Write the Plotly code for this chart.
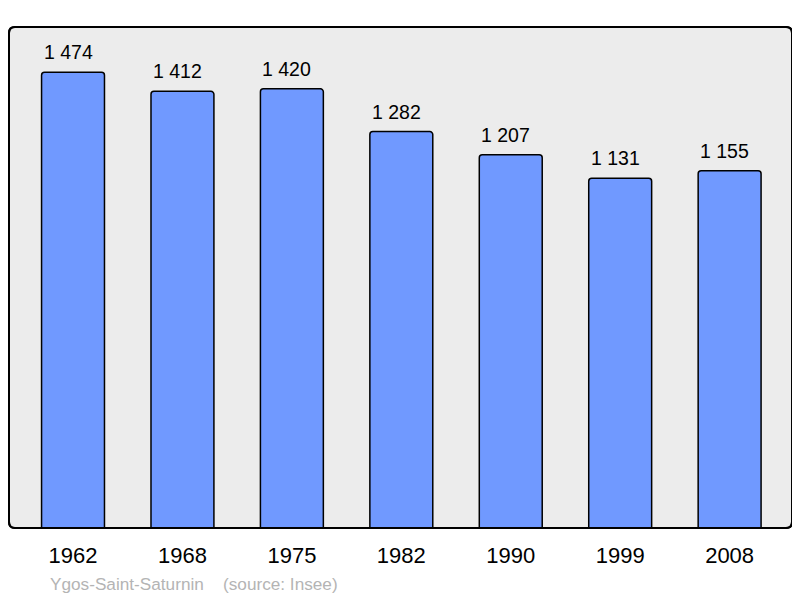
import plotly.graph_objects as go

years = ["1962", "1968", "1975", "1982", "1990", "1999", "2008"]
population = [1474, 1412, 1420, 1282, 1207, 1131, 1155]
value_labels = ["1 474", "1 412", "1 420", "1 282", "1 207", "1 131", "1 155"]
commune_text = "Ygos-Saint-Saturnin"
source_text = "(source: Insee)"

# page body has an 8px default margin; compensate in the figure margins
W, H = 800, 598
ml, mr, mt, mb = 1, 16, 19, 78
pw, ph = W - ml - mr, H - mt - mb

fig = go.Figure()
fig.add_trace(go.Bar(
    x=years, y=population,
    marker=dict(color="#7099ff", line=dict(color="black", width=1.5), cornerradius=3),
    width=0.575,
    hoverinfo="skip",
))

for i, (v, lab) in enumerate(zip(population, value_labels)):
    fig.add_annotation(x=i, y=v, xref="x", yref="y", text=lab, showarrow=False,
                       yanchor="bottom", yshift=7, xshift=-5,
                       font=dict(size=19.5, color="black", family="Liberation Sans"))

rx, ry = 6 / pw, 6 / ph
path = (f"M {rx},0 L {1-rx},0 Q 1,0 1,{ry} L 1,{1-ry} Q 1,1 {1-rx},1 "
        f"L {rx},1 Q 0,1 0,{1-ry} L 0,{ry} Q 0,0 {rx},0 Z")
fig.add_shape(type="path", path=path, xref="paper", yref="paper",
              fillcolor="#ececec", line=dict(color="black", width=2), layer="below")
fig.add_shape(type="path", path=path, xref="paper", yref="paper",
              fillcolor="rgba(0,0,0,0)", line=dict(color="black", width=2), layer="above")

src_y = -((584 - 8) - (mt + ph)) / ph
for txt, px in [(commune_text, 48), (source_text, 221)]:
    fig.add_annotation(x=(px - 8 - ml) / pw, y=src_y, xref="paper", yref="paper",
                       text=txt, showarrow=False, xanchor="left", yanchor="middle",
                       font=dict(size=17.2, color="#b4b4b4", family="Liberation Sans"))

fig.update_layout(
    width=W, height=H,
    margin=dict(l=ml, r=mr, t=mt, b=mb),
    paper_bgcolor="white", plot_bgcolor="rgba(0,0,0,0)",
    showlegend=False,
    font=dict(family="Liberation Sans", color="black"),
    xaxis=dict(type="category", range=[-0.585, 6.57], showgrid=False, zeroline=False,
               showline=False, ticks="outside", ticklen=8, tickcolor="rgba(0,0,0,0)",
               tickfont=dict(size=22, color="black")),
    yaxis=dict(range=[0, 1620], showgrid=False, zeroline=False, showline=False,
               showticklabels=False, ticks=""),
)

fig.write_html("out.html")
